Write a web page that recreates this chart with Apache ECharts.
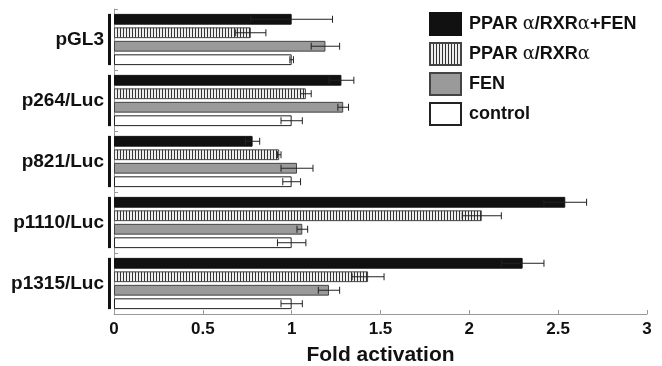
<!DOCTYPE html>
<html>
<head>
<meta charset="utf-8">
<script src="https://cdn.jsdelivr.net/npm/echarts@6/dist/echarts.min.js"></script>
<style>
  html, body { margin: 0; padding: 0; background: #fff; }
  #chart { width: 662px; height: 366px; }
</style>
</head>
<body>
<div id="chart"></div>
<script>
// data
var categories = ["pGL3", "p264/Luc", "p821/Luc", "p1110/Luc", "p1315/Luc"];
var seriesNames = ["PPARα/RXRα+FEN", "PPARα/RXRα", "FEN", "control"];
var valuesPRF = [1.00, 1.28, 0.78, 2.54, 2.30];
var errPRF = [0.23, 0.07, 0.04, 0.12, 0.12];
var valuesPR = [0.77, 1.08, 0.93, 2.07, 1.43];
var errPR = [0.085, 0.03, 0.01, 0.11, 0.09];
var valuesFEN = [1.19, 1.29, 1.03, 1.06, 1.21];
var errFEN = [0.08, 0.03, 0.09, 0.03, 0.06];
var valuesCtrl = [1.00, 1.00, 1.00, 1.00, 1.00];
var errCtrl = [0.01, 0.06, 0.05, 0.08, 0.06];
var xTicks = { min: 0, max: 3, interval: 0.5 };

var CAT_GAP = 0.16;
var BAR_GAP = 0.25;
var FONT = "'Liberation Sans', Arial, sans-serif";

//竖条纹填充
var pat = document.createElement("canvas");
pat.width = 3;
pat.height = 4;
var pctx = pat.getContext("2d");
pctx.fillStyle = "#eeeeee";
pctx.fillRect(0, 0, 3, 4);
pctx.fillStyle = "#333333";
pctx.fillRect(0, 0, 1, 4);

var styles = [
    { color: "#111111", borderColor: "#111111", borderWidth: 1 },
    { color: { image: pat, repeat: "repeat" }, borderColor: "#444444", borderWidth: 1 },
    { color: "#9a9a9a", borderColor: "#444444", borderWidth: 1 },
    { color: "#ffffff", borderColor: "#222222", borderWidth: 1 }
];
var allValues = [valuesPRF, valuesPR, valuesFEN, valuesCtrl];
var allErrs = [errPRF, errPR, errFEN, errCtrl];

function barCenterY(api, centerY, idx) {
    var band = api.size([0, 1])[1];
    var bw = band * (1 - CAT_GAP) / (4 + 3 * BAR_GAP);
    return centerY - band / 2 + band * CAT_GAP / 2 + idx * bw * (1 + BAR_GAP) + bw / 2;
}

function errorRender(idx) {
    return function(params, api) {
        var cat = api.value(2);
        var lo = api.coord([api.value(0), cat]);
        var hi = api.coord([api.value(1), cat]);
        var y = barCenterY(api, lo[1], idx);
        var ls = { stroke: "#222", lineWidth: 1 };
        return {
            type: "group",
            children: [
                { type: "line", shape: { x1: lo[0], y1: y, x2: hi[0], y2: y }, style: ls },
                { type: "line", shape: { x1: lo[0], y1: y - 3.5, x2: lo[0], y2: y + 3.5 }, style: ls },
                { type: "line", shape: { x1: hi[0], y1: y - 3.5, x2: hi[0], y2: y + 3.5 }, style: ls }
            ]
        };
    };
}

var series = [];
for (var i = 0; i < 4; i++) {
    series.push({
        name: seriesNames[i],
        type: "bar",
        data: allValues[i],
        itemStyle: styles[i],
        barGap: BAR_GAP * 100 + "%",
        barCategoryGap: CAT_GAP * 100 + "%",
        animation: false,
        z: 2
    });
}
for (var j = 0; j < 4; j++) {
    var errData = [];
    for (var k = 0; k < categories.length; k++) {
        errData.push([allValues[j][k] - allErrs[j][k], allValues[j][k] + allErrs[j][k], k]);
    }
    series.push({
        type: "custom",
        renderItem: errorRender(j),
        data: errData,
        encode: { x: [0, 1], y: 2 },
        animation: false,
        silent: true,
        z: 3
    });
}
//每组左侧的黑色竖条
series.push({
    type: "custom",
    data: categories.map(function(c, n) { return [0, n]; }),
    encode: { x: 0, y: 1 },
    renderItem: function(params, api) {
        var p = api.coord([0, api.value(1)]);
        var band = api.size([0, 1])[1];
        var half = band / 2 - band * CAT_GAP / 2;
        return {
            type: "rect",
            shape: { x: p[0] - 6, y: p[1] - half, width: 3, height: half * 2 },
            style: { fill: "#111" }
        };
    },
    animation: false,
    silent: true,
    z: 4
});

var chart = echarts.init(document.getElementById("chart"));
chart.setOption({
    backgroundColor: "#fff",
    animation: false,
    grid: { left: 114, right: 15, top: 9, bottom: 52, outerBoundsMode: "none" },
    legend: {
        data: seriesNames,
        orient: "vertical",
        left: 424,
        top: 7,
        icon: "rect",
        itemWidth: 31,
        itemHeight: 22,
        itemGap: 6,
        selectedMode: false,
        formatter: function(name) {
            return name.replace("PPARα", "PPAR {g|α}").replace("RXRα", "RXR{g|α}");
        },
        textStyle: {
            fontFamily: FONT,
            fontWeight: "bold",
            fontSize: 18,
            color: "#111",
            padding: [0, 0, 0, 3],
            rich: {
                g: { fontFamily: "'DejaVu Serif', serif", fontWeight: "normal", fontSize: 18, color: "#111" }
            }
        }
    },
    xAxis: {
        type: "value",
        min: xTicks.min,
        max: xTicks.max,
        interval: xTicks.interval,
        splitLine: { show: false },
        axisLine: { show: true, lineStyle: { color: "#999", width: 1 } },
        axisTick: { show: true, inside: true, length: 4, lineStyle: { color: "#999" } },
        axisLabel: { fontFamily: FONT, fontWeight: "bold", fontSize: 17, color: "#111", margin: 7 },
        name: "Fold activation",
        nameLocation: "middle",
        nameGap: 31,
        nameTextStyle: { fontFamily: FONT, fontWeight: "bold", fontSize: 21, color: "#111" }
    },
    yAxis: {
        type: "category",
        data: categories,
        inverse: true,
        axisLine: { show: true, lineStyle: { color: "#999", width: 1 } },
        axisTick: { show: true, inside: true, length: 4, lineStyle: { color: "#999" } },
        axisLabel: { fontFamily: FONT, fontWeight: "bold", fontSize: 19, color: "#111", margin: 10 }
    },
    series: series
});
</script>
</body>
</html>
